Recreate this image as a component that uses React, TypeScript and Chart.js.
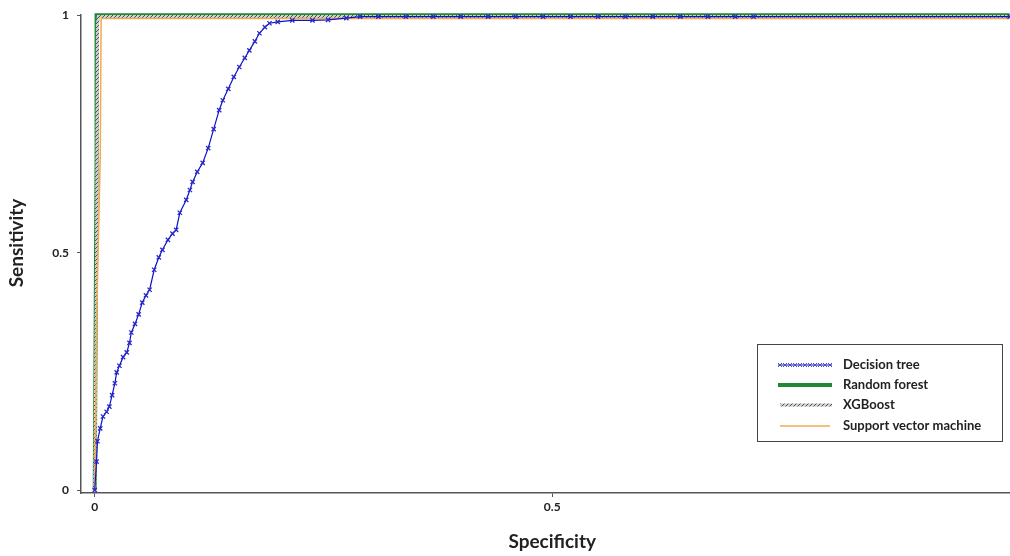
import React, { useEffect, useRef } from "react";
import { Chart, registerables } from "chart.js";

Chart.register(...registerables);

// ---- Data (x = 1 - specificity, plotted on "Specificity" axis as in the reference) ----
const dtX = [0, 0.002, 0.003, 0.006, 0.009, 0.013, 0.016, 0.019, 0.022, 0.024, 0.027, 0.031, 0.035, 0.038, 0.04, 0.044, 0.048, 0.052, 0.056, 0.06, 0.065, 0.07, 0.074, 0.08, 0.085, 0.089, 0.093, 0.1, 0.104, 0.107, 0.112, 0.118, 0.124, 0.13, 0.136, 0.14, 0.146, 0.152, 0.158, 0.164, 0.169, 0.175, 0.18, 0.186, 0.191, 0.2, 0.216, 0.238, 0.255, 0.275, 0.29, 0.31, 0.34, 0.37, 0.4, 0.43, 0.46, 0.49, 0.52, 0.55, 0.58, 0.61, 0.64, 0.67, 0.7, 0.72, 1.0];
const dtY = [0, 0.06, 0.103, 0.13, 0.155, 0.165, 0.176, 0.2, 0.225, 0.248, 0.262, 0.28, 0.29, 0.31, 0.332, 0.35, 0.37, 0.395, 0.41, 0.422, 0.464, 0.49, 0.506, 0.527, 0.54, 0.548, 0.584, 0.611, 0.632, 0.649, 0.67, 0.689, 0.72, 0.76, 0.8, 0.821, 0.845, 0.87, 0.891, 0.91, 0.926, 0.945, 0.962, 0.975, 0.983, 0.986, 0.989, 0.989, 0.99, 0.994, 0.997, 0.997, 0.997, 0.997, 0.997, 0.997, 0.997, 0.997, 0.997, 0.997, 0.997, 0.997, 0.997, 0.997, 0.997, 0.997, 0.997];

const rfX = [0, 0.001, 0.002, 0.002, 1.0];
const rfY = [0, 0.35, 0.7, 1.0, 1.0];

const xgbX = [0, 0.002, 0.003, 0.004, 1.0];
const xgbY = [0, 0.5, 0.98, 0.997, 0.997];

const svmX = [0, 0.001, 0.002, 0.006, 0.007, 1.0];
const svmY = [0, 0.15, 0.35, 0.7, 0.993, 0.993];

const seriesNames = ["Decision tree", "Random forest", "XGBoost", "Support vector machine"];

const xTitle = "Specificity";
const yTitle = "Sensitivity";
const xTicks = [0, 0.5];
const xTickLabels = ["0", "0.5"];
const yTicks = [0, 0.5, 1];
const yTickLabels = ["0", "0.5", "1"];

const BLUE = "#1010c8";
const GREEN = "#1f8a34";
const ORANGE = "#f0aa50";
const FONT = "Lato";

function pts(xs: number[], ys: number[]) {
  return xs.map((x, i) => ({ x, y: ys[i] }));
}

function makeHatch(ctx: CanvasRenderingContext2D): CanvasPattern | string {
  const c = document.createElement("canvas");
  c.width = 4;
  c.height = 4;
  const g = c.getContext("2d");
  if (!g) return "#888";
  g.fillStyle = "#cfcfcf";
  g.fillRect(0, 0, 4, 4);
  g.strokeStyle = "#505050";
  g.lineWidth = 1;
  g.beginPath();
  g.moveTo(0, 4);
  g.lineTo(4, 0);
  g.stroke();
  const p = ctx.createPattern(c, "repeat");
  return p || "#888";
}

export default function App() {
  const ref = useRef<HTMLCanvasElement | null>(null);

  useEffect(() => {
    document.body.style.margin = "0";
    const canvas = ref.current;
    if (!canvas) return;
    const ctx = canvas.getContext("2d");
    if (!ctx) return;
    const hatch = makeHatch(ctx);

    const legendPlugin = {
      id: "boxLegend",
      afterDraw(chart: any) {
        const c = chart.ctx as CanvasRenderingContext2D;
        c.save();
        // axis titles
        c.fillStyle = "#222";
        c.font = `bold 19px ${FONT}`;
        c.textAlign = "center";
        c.textBaseline = "middle";
        const xs = chart.scales.x;
        c.fillText(xTitle, xs.getPixelForValue(0.5), 542);
        c.save();
        c.translate(17, 243);
        c.rotate(-Math.PI / 2);
        c.fillText(yTitle, 0, 0);
        c.restore();

        c.strokeStyle = "#444";
        c.lineWidth = 1;
        c.strokeRect(757.5, 344.5, 245, 97);
        const rows = [365, 385, 405, 426];
        const x0 = 778;
        const x1 = 832;
        // Decision tree sample
        c.strokeStyle = BLUE;
        c.lineWidth = 1;
        c.beginPath();
        c.moveTo(x0, rows[0]);
        c.lineTo(x1, rows[0]);
        c.stroke();
        c.strokeStyle = "#4a4ad0";
        for (let x = x0 + 2; x <= x1; x += 5) {
          c.beginPath();
          c.moveTo(x - 2, rows[0] - 2);
          c.lineTo(x + 2, rows[0] + 2);
          c.moveTo(x - 2, rows[0] + 2);
          c.lineTo(x + 2, rows[0] - 2);
          c.stroke();
        }
        // Random forest
        c.strokeStyle = GREEN;
        c.lineWidth = 4;
        c.beginPath();
        c.moveTo(x0, rows[1]);
        c.lineTo(x1, rows[1]);
        c.stroke();
        // XGBoost
        c.strokeStyle = hatch as any;
        c.lineWidth = 3;
        c.beginPath();
        c.moveTo(x0 + 2, rows[2]);
        c.lineTo(x1, rows[2]);
        c.stroke();
        // SVM
        c.strokeStyle = ORANGE;
        c.lineWidth = 1.5;
        c.beginPath();
        c.moveTo(x0 + 2, rows[3]);
        c.lineTo(x1 - 2, rows[3]);
        c.stroke();
        c.fillStyle = "#222";
        c.font = `bold 13px ${FONT}`;
        c.textBaseline = "middle";
        c.textAlign = "left";
        seriesNames.forEach((n, i) => c.fillText(n, 843, rows[i]));
        c.restore();
      },
    };

    const axisCommon = {
      type: "linear" as const,
      grid: { drawOnChartArea: false, drawTicks: true, tickLength: 4, color: "#555" },
      border: { display: true, color: "#555", width: 1.5 },
    };

    const chart = new Chart(ctx, {
      type: "scatter",
      data: {
        datasets: [
          {
            label: seriesNames[0],
            data: pts(dtX, dtY),
            showLine: true,
            borderColor: BLUE,
            borderWidth: 1.2,
            pointStyle: "crossRot",
            pointRadius: 3,
            pointBorderColor: "#2828c8",
            pointBorderWidth: 1.3,
            order: 0,
            clip: false,
          },
          {
            label: seriesNames[1],
            data: pts(rfX, rfY),
            showLine: true,
            borderColor: GREEN,
            borderWidth: 4,
            pointRadius: 0,
            order: 3,
            clip: false,
          },
          {
            label: seriesNames[2],
            data: pts(xgbX, xgbY),
            showLine: true,
            borderColor: hatch as any,
            borderWidth: 3,
            pointRadius: 0,
            order: 2,
            clip: false,
          },
          {
            label: seriesNames[3],
            data: pts(svmX, svmY),
            showLine: true,
            borderColor: ORANGE,
            borderWidth: 1.5,
            pointRadius: 0,
            order: 1,
            clip: false,
          },
        ],
      },
      options: {
        responsive: false,
        animation: false,
        layout: { padding: { top: 13, right: 0, left: 0, bottom: 0 } },
        plugins: { legend: { display: false }, tooltip: { enabled: false } },
        elements: { line: { tension: 0 } },
        scales: {
          x: {
            ...axisCommon,
            min: -0.015,
            max: 1.0,
            afterBuildTicks: (s: any) => {
              s.ticks = xTicks.map((v) => ({ value: v }));
            },
            afterFit: (s: any) => {
              s.height = 63;
            },
            ticks: {
              padding: 3,
              color: "#222",
              font: { family: FONT, size: 12, weight: "bold" },
              callback: (_v: any, i: number) => xTickLabels[i],
            },
            title: { display: false },
          },
          y: {
            ...axisCommon,
            min: -0.006,
            max: 1.0,
            afterBuildTicks: (s: any) => {
              s.ticks = yTicks.map((v) => ({ value: v }));
            },
            afterFit: (s: any) => {
              s.width = 81;
            },
            ticks: {
              padding: 8,
              color: "#222",
              font: { family: FONT, size: 12, weight: "bold" },
              callback: (_v: any, i: number) => yTickLabels[i],
            },
            title: { display: false },
          },
        },
      },
      plugins: [legendPlugin],
    } as any);

    return () => chart.destroy();
  }, []);

  return (
    <div style={{ width: 1010, height: 556, background: "#fff", overflow: "hidden" }}>
      <canvas ref={ref} width={1015} height={556} style={{ display: "block" }} />
    </div>
  );
}
